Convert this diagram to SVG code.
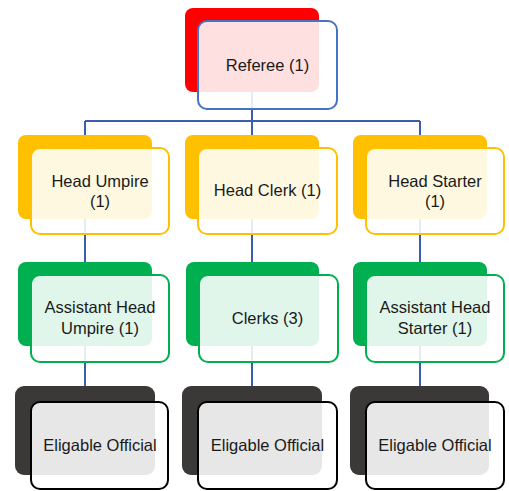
<svg xmlns="http://www.w3.org/2000/svg" width="509" height="491" viewBox="0 0 509 491">
<style>
  .back { stroke: none; }
  .front { fill: #ffffff; fill-opacity: 0.88; stroke-width: 2; }
  .lbl { font-family: "Liberation Sans", Arial, sans-serif; font-size: 16.5px; fill: #1a1a1a; text-anchor: middle; }
  .conn { stroke: #3A5DAE; stroke-width: 2; fill: none; }
</style>
<rect width="509" height="491" fill="#ffffff"/>
<g id="connectors">
  <path class="conn" d="M252,92 V121 M85,121 H420 M85,121 V386 M252,121 V386 M420,121 V386"/>
</g>
<g id="referee">
  <rect class="back" x="185" y="8" width="134" height="84" rx="8" fill="#FF0000"/>
  <rect class="front" x="198" y="21" width="139" height="88" rx="9" stroke="#4472C4"/>
  <text class="lbl" x="267.5" y="71">Referee (1)</text>
</g>
<g id="head-umpire">
  <rect class="back" x="18" y="135" width="134" height="84" rx="8" fill="#FFC000"/>
  <rect class="front" x="31" y="148" width="138" height="86" rx="9" stroke="#FFC000"/>
  <text class="lbl" x="100" y="187">Head Umpire</text>
  <text class="lbl" x="100" y="207">(1)</text>
</g>
<g id="head-clerk">
  <rect class="back" x="185" y="135" width="134" height="84" rx="8" fill="#FFC000"/>
  <rect class="front" x="198" y="148" width="139" height="86" rx="9" stroke="#FFC000"/>
  <text class="lbl" x="267.5" y="196">Head Clerk (1)</text>
</g>
<g id="head-starter">
  <rect class="back" x="353" y="135" width="134" height="84" rx="8" fill="#FFC000"/>
  <rect class="front" x="366" y="148" width="138" height="86" rx="9" stroke="#FFC000"/>
  <text class="lbl" x="435" y="187">Head Starter</text>
  <text class="lbl" x="435" y="207">(1)</text>
</g>
<g id="assistant-head-umpire">
  <rect class="back" x="18" y="262" width="134" height="84" rx="8" fill="#00B050"/>
  <rect class="front" x="31" y="275" width="138" height="87" rx="9" stroke="#00B050"/>
  <text class="lbl" x="100" y="313">Assistant Head</text>
  <text class="lbl" x="100" y="334">Umpire (1)</text>
</g>
<g id="clerks">
  <rect class="back" x="186" y="262" width="133" height="84" rx="8" fill="#00B050"/>
  <rect class="front" x="199" y="275" width="139" height="87" rx="9" stroke="#00B050"/>
  <text class="lbl" x="267.5" y="324">Clerks (3)</text>
</g>
<g id="assistant-head-starter">
  <rect class="back" x="353" y="262" width="134" height="84" rx="8" fill="#00B050"/>
  <rect class="front" x="366" y="275" width="138" height="87" rx="9" stroke="#00B050"/>
  <text class="lbl" x="435" y="313">Assistant Head</text>
  <text class="lbl" x="435" y="334">Starter (1)</text>
</g>
<g id="eligable-official-1">
  <rect class="back" x="15" y="386" width="140" height="89" rx="9" fill="#3B3838"/>
  <rect class="front" x="31" y="402" width="137" height="87" rx="9" stroke="#000000" stroke-width="2.5"/>
  <text class="lbl" x="100" y="451">Eligable Official</text>
</g>
<g id="eligable-official-2">
  <rect class="back" x="182" y="386" width="140" height="89" rx="9" fill="#3B3838"/>
  <rect class="front" x="198" y="402" width="139" height="87" rx="9" stroke="#000000" stroke-width="2.5"/>
  <text class="lbl" x="267.5" y="451">Eligable Official</text>
</g>
<g id="eligable-official-3">
  <rect class="back" x="350" y="386" width="139" height="89" rx="9" fill="#3B3838"/>
  <rect class="front" x="366" y="402" width="138" height="87" rx="9" stroke="#000000" stroke-width="2.5"/>
  <text class="lbl" x="435" y="451">Eligable Official</text>
</g>
</svg>
